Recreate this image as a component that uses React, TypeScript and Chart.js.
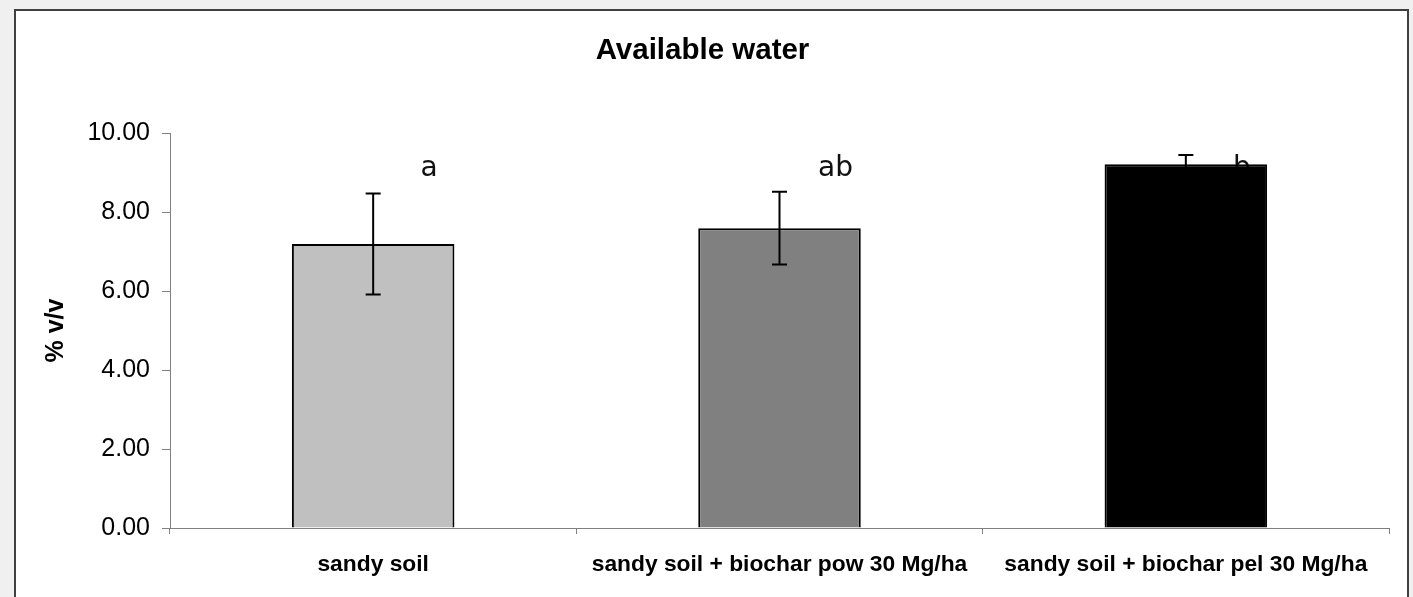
import React, { useEffect, useRef } from "react";
import { Chart, registerables } from "chart.js";

Chart.register(...registerables);

const categories = [
  "sandy soil",
  "sandy soil + biochar pow 30 Mg/ha",
  "sandy soil + biochar pel 30 Mg/ha",
];
const values = [7.19, 7.59, 9.21];
const errors = [1.28, 0.92, 0.23];
const letters = ["a", "ab", "b"];
const barColors = ["#c0c0c0", "#808080", "#000000"];
const yTicks = [0, 2, 4, 6, 8, 10];

const LETTER_VALUE = 9.09;

const errorBarPlugin = {
  id: "errorBars",
  afterDatasetsDraw(chart: any) {
    const meta = chart.getDatasetMeta(0);
    const y = chart.scales.y;
    const ctx = chart.ctx;
    ctx.save();
    ctx.strokeStyle = "#000";
    ctx.lineWidth = 2;
    meta.data.forEach((bar: any, i: number) => {
      const x = bar.x;
      const top = y.getPixelForValue(values[i] + errors[i]);
      const bot = y.getPixelForValue(values[i] - errors[i]);
      ctx.beginPath();
      ctx.moveTo(x, top);
      ctx.lineTo(x, bot);
      ctx.moveTo(x - 7.5, top);
      ctx.lineTo(x + 7.5, top);
      ctx.moveTo(x - 7.5, bot);
      ctx.lineTo(x + 7.5, bot);
      ctx.stroke();
    });
    ctx.restore();
  },
};

const letterPlugin = {
  id: "letters",
  beforeDatasetsDraw(chart: any) {
    const meta = chart.getDatasetMeta(0);
    const y = chart.scales.y;
    const ctx = chart.ctx;
    ctx.save();
    ctx.fillStyle = "#111";
    ctx.font = "normal 28px 'DejaVu Sans'";
    ctx.textAlign = "center";
    ctx.textBaseline = "middle";
    meta.data.forEach((bar: any, i: number) => {
      ctx.fillText(letters[i], bar.x + 56, y.getPixelForValue(LETTER_VALUE));
    });
    ctx.restore();
  },
};

export default function App() {
  const ref = useRef<HTMLCanvasElement>(null);
  useEffect(() => {
    if (!ref.current) return;
    const chart = new Chart(ref.current, {
      type: "bar",
      data: {
        labels: categories,
        datasets: [
          {
            data: values,
            backgroundColor: barColors,
            borderColor: "#000",
            borderWidth: 2,
            barPercentage: 0.4,
            categoryPercentage: 1,
          },
        ],
      },
      options: {
        responsive: false,
        animation: false,
        devicePixelRatio: 1,
        layout: { padding: { left: 0, right: 18, top: 0, bottom: 0 } },
        plugins: {
          legend: { display: false },
          tooltip: { enabled: false },
          title: {
            display: true,
            text: "Available water",
            color: "#000",
            font: { family: "'Liberation Sans', Arial, sans-serif", size: 29.5, weight: "bold" },
            padding: { top: 22, bottom: 64.6 },
          },
        },
        scales: {
          x: {
            afterFit: (s: any) => {
              s.height = 83;
            },
            border: { color: "#808080", width: 1 },
            grid: {
              display: true,
              drawOnChartArea: false,
              drawTicks: true,
              tickLength: 6,
              color: "#808080",
              offset: true,
            },
            ticks: {
              color: "#000",
              autoSkip: false,
              maxRotation: 0,
              minRotation: 0,
              padding: 17,
              font: { family: "'Liberation Sans', Arial, sans-serif", size: 22.8, weight: "bold" },
            },
          },
          y: {
            min: 0,
            max: 10,
            afterFit: (s: any) => {
              s.width = 154;
            },
            afterBuildTicks: (s: any) => {
              s.ticks = yTicks.map((v) => ({ value: v }));
            },
            border: { color: "#808080", width: 1 },
            grid: {
              display: true,
              drawOnChartArea: false,
              drawTicks: true,
              tickLength: 8,
              color: "#808080",
            },
            ticks: {
              color: "#000",
              padding: 12,
              font: { family: "'Liberation Sans', Arial, sans-serif", size: 25 },
              callback: (v: any) => Number(v).toFixed(2),
            },
            title: {
              display: true,
              text: "% v/v",
              color: "#000",
              font: { family: "'Liberation Sans', Arial, sans-serif", size: 25, weight: "bold" },
              padding: { top: 25, bottom: 0 },
            },
          },
        },
      },
      plugins: [letterPlugin, errorBarPlugin],
    });
    return () => chart.destroy();
  }, []);

  return (
    <div
      style={{
        position: "absolute",
        left: 0,
        top: 0,
        width: 1413,
        height: 597,
        background: "#f0f0f0",
        overflow: "hidden",
      }}
    >
      <div
        style={{
          position: "absolute",
          left: 14,
          top: 9,
          width: 1391,
          height: 620,
          border: "2px solid #404040",
          background: "#fff",
        }}
      >
        <canvas ref={ref} width={1391} height={600} style={{ display: "block" }} />
      </div>
    </div>
  );
}
